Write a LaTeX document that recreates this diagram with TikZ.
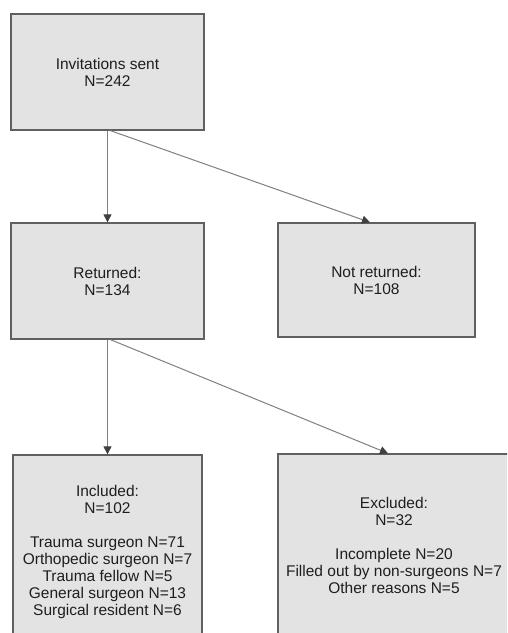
\documentclass[tikz,border=0pt]{standalone}
\usepackage{fontspec}
\setmainfont{Liberation Sans}
\usetikzlibrary{arrows.meta}
\definecolor{boxfill}{HTML}{E3E3E3}
\definecolor{boxline}{HTML}{606060}
\definecolor{arrowline}{HTML}{808080}
\definecolor{arrowhead}{HTML}{404040}
\definecolor{txt}{HTML}{1E1E1E}
\begin{document}
\begin{tikzpicture}[x=1pt,y=-1pt,
  flowbox/.style={draw=boxline, fill=boxfill, line width=1.3pt, rectangle,
    align=center, text=txt, inner sep=0pt,
    font=\fontsize{15.5}{17}\selectfont},
  flowarrow/.style={draw=arrowline, line width=1pt,
    -{Triangle[width=8pt,length=8pt,color=arrowhead]}}]
\fill[white] (0,0) rectangle (507,633);
\clip (0,0) rectangle (507,633);
\node[flowbox, minimum width=193pt, minimum height=116pt] (b1) at (107.5,72) {Invitations sent\\N=242};
\node[flowbox, minimum width=193pt, minimum height=116pt] (b2) at (107.5,281) {Returned:\\N=134};
\node[flowbox, minimum width=197pt, minimum height=114pt] (b3) at (376.5,280) {Not returned:\\N=108};
\node[flowbox, minimum width=189pt, minimum height=194pt] (b4) at (107.5,552) {Included:\\N=102\\[17pt]Trauma surgeon N=71\\Orthopedic surgeon N=7\\Trauma fellow N=5\\General surgeon N=13\\Surgical resident N=6};
\node[flowbox, minimum width=232pt, minimum height=182pt] (b5) at (394,545) {Excluded:\\N=32\\[17pt]Incomplete N=20\\Filled out by non-surgeons N=7\\Other reasons N=5};
\draw[flowarrow] (b1.south) -- (b2.north);
\draw[flowarrow] ([xshift=3pt]b1.south) -- ([xshift=-6.5pt]b3.north);
\draw[flowarrow] (b2.south) -- (b4.north);
\draw[flowarrow] ([xshift=3pt]b2.south) -- ([xshift=-6pt]b5.north);
\end{tikzpicture}
\end{document}
